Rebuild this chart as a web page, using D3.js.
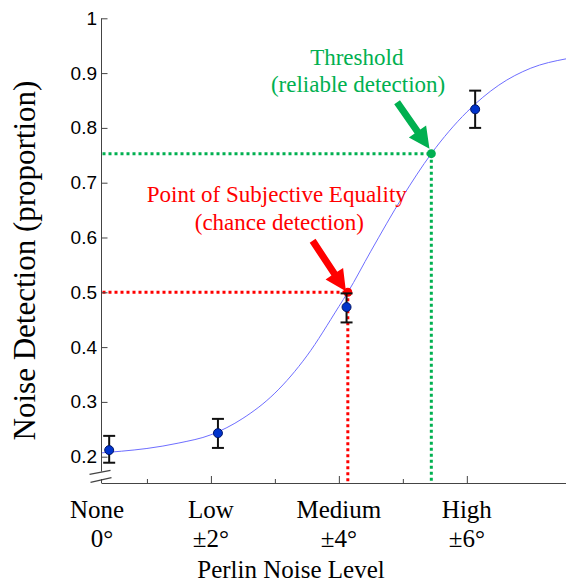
<!DOCTYPE html>
<html>
<head>
<meta charset="utf-8">
<script src="https://cdn.jsdelivr.net/npm/d3@7"></script>
<style>
  html, body { margin: 0; padding: 0; background: #fff; }
  svg { display: block; }
</style>
</head>
<body>
<svg id="chart" width="566" height="582"></svg>
<script>
// Perlin noise levels: names, amplitudes, where each level was tested (degrees)
const levelNames   = ["None", "Low", "Medium", "High"];
const levelDegrees = ["0°", "±2°", "±4°", "±6°"];
const levelLabelX  = [0.22, 2, 4, 6];
const levelX       = [0.41, 2.11, 4.12, 6.13];

// Mean noise detection (proportion) with error-bar limits
const detection = [0.212, 0.243, 0.473, 0.834];
const errLow    = [0.189, 0.216, 0.445, 0.800];
const errHigh   = [0.238, 0.269, 0.498, 0.868];

// Axis ticks
const yTicks      = [0.2, 0.3, 0.4, 0.5, 0.6, 0.7, 0.8, 0.9, 1];
const yTickLabels = ["0.2", "0.3", "0.4", "0.5", "0.6", "0.7", "0.8", "0.9", "1"];
const xMajorTicks = [2, 4, 6];
const xMinorTicks = [1, 3, 5];

// Fitted psychometric function, sampled along the noise axis
const fitX = [0.29, 0.6, 1.0, 1.5, 2.0, 2.5, 3.0, 3.5, 4.0, 4.14, 4.5, 5.0, 5.445, 6.0, 6.5, 7.0, 7.55];
const fitY = [0.207, 0.210, 0.215, 0.225, 0.240, 0.270, 0.316, 0.384, 0.474, 0.500, 0.575, 0.675, 0.753, 0.829, 0.878, 0.909, 0.926];

// Point of subjective equality and threshold read from the fit
const pse       = { x: 4.14,  y: 0.5 };
const threshold = { x: 5.445, y: 0.753 };

const RED = "#ff0000";
const GREEN = "#00b050";
const AXIS = "#444";
const SERIF = "'Liberation Serif', 'Times New Roman', serif";
const SANS = "'Liberation Sans', Arial, sans-serif";

const svg = d3.select("#chart");

const x = d3.scaleLinear().domain([0.29, 7.55]).range([101.5, 566]);
const y = d3.scaleLinear().domain([0.152, 1]).range([483, 18.3]);

const x0 = x.range()[0];
const y0 = y.range()[0];

// ---- guide lines for PSE and threshold ----
const guides = svg.append("g");
[[pse, RED], [threshold, GREEN]].forEach(([p, c]) => {
  guides.append("line")
    .attr("x1", x0 + 1).attr("x2", x(p.x))
    .attr("y1", y(p.y)).attr("y2", y(p.y))
    .attr("stroke", c).attr("stroke-width", 3)
    .attr("stroke-dasharray", "3,3");
  guides.append("line")
    .attr("x1", x(p.x)).attr("x2", x(p.x))
    .attr("y1", y(p.y)).attr("y2", y0)
    .attr("stroke", c).attr("stroke-width", 3)
    .attr("stroke-dasharray", "3,3");
});

// ---- fitted curve ----
const fitLine = d3.line()
  .x((d, i) => x(fitX[i]))
  .y((d, i) => y(fitY[i]))
  .curve(d3.curveMonotoneX);
svg.append("path")
  .datum(fitX)
  .attr("d", fitLine)
  .attr("fill", "none")
  .attr("stroke", "#6e6eff")
  .attr("stroke-width", 1);

// ---- PSE / threshold dots ----
svg.append("circle").attr("cx", x(pse.x)).attr("cy", y(pse.y)).attr("r", 4.5).attr("fill", RED);
svg.append("circle").attr("cx", x(threshold.x)).attr("cy", y(threshold.y)).attr("r", 4.5).attr("fill", GREEN);

// ---- axes ----
const yAxis = d3.axisLeft(y)
  .tickValues(yTicks)
  .tickFormat((d, i) => yTickLabels[i])
  .tickSizeInner(-6)
  .tickSizeOuter(0)
  .tickPadding(4.5);
const gy = svg.append("g").attr("transform", `translate(${x0},0)`).call(yAxis);
gy.select(".domain").remove();
gy.selectAll(".tick line").attr("stroke", AXIS);
gy.selectAll(".tick text")
  .attr("fill", "#000")
  .style("font-family", SANS)
  .style("font-size", "19px");

const xAxis = d3.axisBottom(x)
  .tickValues(xMajorTicks)
  .tickFormat("")
  .tickSizeInner(-7)
  .tickSizeOuter(0);
const gx = svg.append("g").attr("transform", `translate(0,${y0})`).call(xAxis);
gx.select(".domain").remove();
gx.selectAll(".tick line").attr("stroke", AXIS);

const xMinor = d3.axisBottom(x)
  .tickValues(xMinorTicks)
  .tickFormat("")
  .tickSizeInner(-4)
  .tickSizeOuter(0);
const gxm = svg.append("g").attr("transform", `translate(0,${y0})`).call(xMinor);
gxm.select(".domain").remove();
gxm.selectAll(".tick line").attr("stroke", AXIS);

// axis lines with a break at the bottom of the y axis
const axisLines = svg.append("g").attr("stroke", AXIS).attr("stroke-width", 1).attr("fill", "none");
axisLines.append("line").attr("x1", x0).attr("x2", x.range()[1]).attr("y1", y0 + 0.5).attr("y2", y0 + 0.5);
axisLines.append("line").attr("x1", x0).attr("x2", x0).attr("y1", y(1)).attr("y2", y0 - 11.5);
axisLines.append("line").attr("x1", x0).attr("x2", x0).attr("y1", y0 - 4).attr("y2", y0);
axisLines.append("line").attr("x1", x0 - 12).attr("y1", y0 - 8.7).attr("x2", x0 + 9).attr("y2", y0 - 12.7).attr("stroke-width", 1.3);
axisLines.append("line").attr("x1", x0 - 11).attr("y1", y0 - 0.7).attr("x2", x0 + 10).attr("y2", y0 - 5.3).attr("stroke-width", 1.3);

// ---- error bars and means ----
const bars = svg.append("g").attr("stroke", "#111").attr("stroke-width", 2);
levelX.forEach((lx, i) => {
  const cx = x(lx);
  bars.append("line").attr("x1", cx).attr("x2", cx).attr("y1", y(errLow[i])).attr("y2", y(errHigh[i]));
  bars.append("line").attr("x1", cx - 6).attr("x2", cx + 6).attr("y1", y(errLow[i])).attr("y2", y(errLow[i]));
  bars.append("line").attr("x1", cx - 6).attr("x2", cx + 6).attr("y1", y(errHigh[i])).attr("y2", y(errHigh[i]));
});
svg.append("g").selectAll("circle")
  .data(detection)
  .join("circle")
  .attr("cx", (d, i) => x(levelX[i]))
  .attr("cy", d => y(d))
  .attr("r", 4.5)
  .attr("fill", "#0033cc")
  .attr("stroke", "#001466")
  .attr("stroke-width", 1);

// ---- category labels ----
const catG = svg.append("g")
  .style("font-family", SERIF)
  .style("font-size", "25px")
  .attr("fill", "#000")
  .attr("text-anchor", "middle");
levelNames.forEach((name, i) => {
  catG.append("text").attr("x", x(levelLabelX[i])).attr("y", 517.5).text(name);
  catG.append("text").attr("x", x(levelLabelX[i]) + (i === 0 ? 5 : 0)).attr("y", 546.5).text(levelDegrees[i]);
});

// ---- axis titles ----
svg.append("text")
  .attr("x", 291).attr("y", 578)
  .attr("text-anchor", "middle")
  .style("font-family", SERIF)
  .style("font-size", "25px")
  .attr("fill", "#000")
  .text("Perlin Noise Level");

svg.append("text")
  .attr("transform", "translate(35,260.5) rotate(-90)")
  .attr("text-anchor", "middle")
  .style("font-family", SERIF)
  .style("font-size", "31px")
  .attr("fill", "#000")
  .text("Noise Detection (proportion)");

// ---- annotations ----
function arrow(tail, tip, color) {
  const tx = x(tail[0]), ty = y(tail[1]);
  const px = x(tip[0]), py = y(tip[1]);
  const len = Math.hypot(px - tx, py - ty);
  const ux = (px - tx) / len, uy = (py - ty) / len;
  const nx = -uy, ny = ux;
  const w = 3.5, hw = 10.5, hl = 21;
  const bx = px - ux * hl, by = py - uy * hl;
  const pts = [
    [tx + nx * w, ty + ny * w],
    [bx + nx * w, by + ny * w],
    [bx + nx * hw, by + ny * hw],
    [px, py],
    [bx - nx * hw, by - ny * hw],
    [bx - nx * w, by - ny * w],
    [tx - nx * w, ty - ny * w]
  ];
  svg.append("polygon").attr("points", pts.map(p => p.join(",")).join(" ")).attr("fill", color);
}
arrow([3.59, 0.594], [4.11, 0.502], RED);
arrow([4.91, 0.847], [5.416, 0.762], GREEN);

function note(cx, lines, baselines, color) {
  const g = svg.append("g")
    .style("font-family", SERIF)
    .style("font-size", "23px")
    .attr("fill", color)
    .attr("text-anchor", "middle");
  lines.forEach((t, i) => g.append("text").attr("x", x(cx[i])).attr("y", y(baselines[i])).text(t));
}
note([4.28, 4.30], ["Threshold", "(reliable detection)"], [0.915, 0.8646], GREEN);
note([3.03, 3.07], ["Point of Subjective Equality", "(chance detection)"], [0.6653, 0.6137], RED);
</script>
</body>
</html>
